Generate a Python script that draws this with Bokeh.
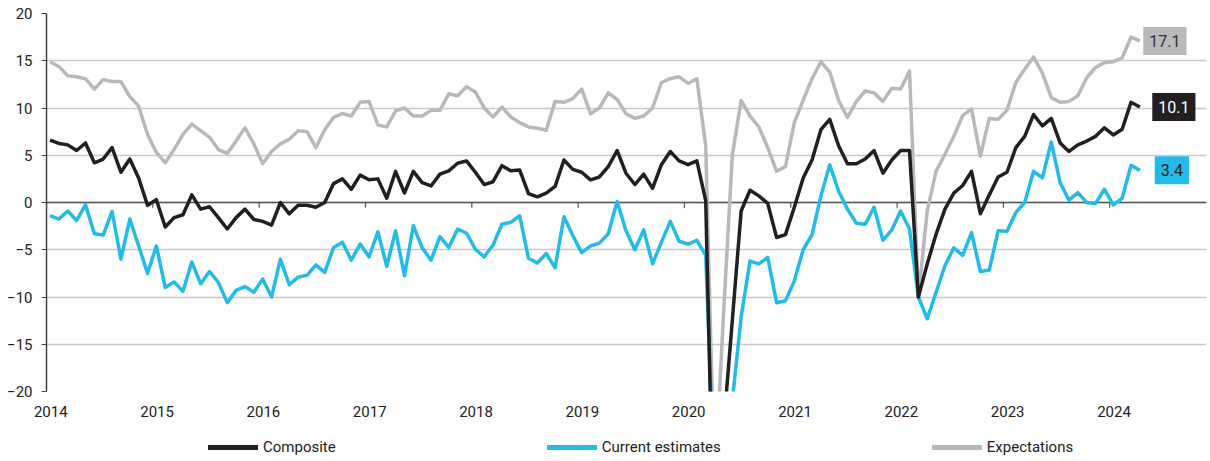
import numpy as np
from bokeh.plotting import figure
from bokeh.layouts import column
from bokeh.models import (Range1d, FixedTicker, Span, Legend, LegendItem, Label,
                          NumeralTickFormatter)
from bokeh.embed import file_html
from bokeh.resources import INLINE

start_year = 2014
years = list(range(2014, 2025))

composite = [
    6.6, 6.25, 6.1, 5.5, 6.3, 4.2, 4.6, 5.8, 3.2, 4.6, 2.6, -0.3,
    0.3, -2.6, -1.6, -1.3, 0.8, -0.7, -0.45, -1.6, -2.8, -1.6, -0.7, -1.8,
    -2.0, -2.4, 0.0, -1.2, -0.3, -0.3, -0.5, 0.0, 2.0, 2.5, 1.4, 2.9,
    2.4, 2.5, 0.45, 3.3, 1.0, 3.3, 2.1, 1.75, 3.0, 3.35, 4.15, 4.4,
    3.2, 1.9, 2.2, 3.9, 3.35, 3.45, 0.95, 0.6, 1.0, 1.7, 4.5, 3.5,
    3.2, 2.4, 2.7, 3.8, 5.5, 3.1, 1.9, 3.0, 1.5, 4.0, 5.4, 4.4,
    4.0, 4.4, 0.2, -40.0, -24.0, -12.5, -0.9, 1.3, 0.7, -0.1, -3.7, -3.4,
    -0.5, 2.6, 4.5, 7.7, 8.8, 6.0, 4.1, 4.1, 4.6, 5.5, 3.1, 4.5,
    5.5, 5.5, -10.0, -6.5, -3.35, -0.7, 1.0, 1.8, 3.3, -1.2, 0.8, 2.7,
    3.2, 5.8, 7.0, 9.3, 8.1, 8.9, 6.3, 5.4, 6.1, 6.5, 7.0, 7.9,
    7.15, 7.75, 10.6, 10.1,
]

current = [
    -1.4, -1.75, -0.9, -1.9, -0.25, -3.3, -3.45, -0.95, -6.0, -1.75, -4.6, -7.5,
    -4.6, -9.0, -8.4, -9.4, -6.3, -8.6, -7.3, -8.45, -10.6, -9.3, -8.9, -9.5,
    -8.1, -10.0, -6.0, -8.7, -7.9, -7.7, -6.6, -7.4, -4.75, -4.2, -6.1, -4.4,
    -5.75, -3.1, -6.75, -3.0, -7.75, -2.45, -4.8, -6.1, -3.6, -4.75, -2.8, -3.25,
    -4.95, -5.75, -4.5, -2.3, -2.1, -1.4, -5.9, -6.4, -5.4, -6.9, -1.5, -3.5,
    -5.3, -4.6, -4.3, -3.3, 0.1, -3.0, -5.0, -2.9, -6.5, -4.2, -2.0, -4.1,
    -4.4, -4.0, -5.6, -30.0, -40.0, -21.0, -12.1, -6.2, -6.5, -5.8, -10.6, -10.4,
    -8.3, -5.0, -3.4, 0.7, 4.0, 1.2, -0.7, -2.2, -2.3, -0.5, -4.0, -2.9,
    -0.9, -2.8, -10.0, -12.3, -9.5, -6.7, -4.8, -5.6, -3.2, -7.3, -7.15, -3.0,
    -3.05, -1.05, 0.0, 3.3, 2.6, 6.4, 2.1, 0.25, 1.05, 0.0, -0.1, 1.4,
    -0.25, 0.45, 3.95, 3.4,
]

expectations = [
    14.9, 14.4, 13.4, 13.3, 13.1, 12.0, 13.0, 12.8, 12.8, 11.2, 10.2, 7.2,
    5.3, 4.2, 5.6, 7.2, 8.3, 7.6, 6.9, 5.6, 5.2, 6.5, 7.9, 6.2,
    4.1, 5.4, 6.2, 6.7, 7.6, 7.5, 5.8, 7.7, 9.0, 9.4, 9.15, 10.6,
    10.7, 8.2, 8.0, 9.7, 10.0, 9.15, 9.15, 9.75, 9.75, 11.5, 11.3, 12.25,
    11.7, 10.0, 9.05, 10.1, 9.05, 8.45, 8.0, 7.85, 7.65, 10.7, 10.6, 11.0,
    12.0, 9.4, 10.0, 11.6, 10.9, 9.4, 8.9, 9.15, 10.0, 12.7, 13.1, 13.3,
    12.6, 13.1, 6.0, -30.0, -12.0, 5.0, 10.8, 9.15, 8.0, 5.8, 3.3, 3.8,
    8.45, 10.8, 13.1, 14.9, 13.8, 10.8, 9.0, 10.7, 11.8, 11.6, 10.7, 12.1,
    12.0, 13.9, -10.0, -0.9, 3.3, 5.1, 7.0, 9.2, 9.9, 4.9, 8.9, 8.8,
    9.75, 12.7, 14.1, 15.4, 13.7, 11.1, 10.6, 10.7, 11.3, 13.2, 14.3, 14.8,
    14.9, 15.3, 17.5, 17.1,
]

series_names = ["Composite", "Current estimates", "Expectations"]
colors = ["#231f20", "#22bbea", "#b9b9b9"]
label_text_colors = ["#ffffff", "#222222", "#333333"]

n = len(composite)
x = [start_year + (i + 0.4) / 12 for i in range(n)]

FONT = "Roboto"

p = figure(width=1208, height=432, output_backend="svg", toolbar_location=None,
           x_range=Range1d(2014, 2024.91), y_range=Range1d(-20, 20),
           min_border_left=46, min_border_right=2, min_border_top=13,
           min_border_bottom=41)
p.outline_line_color = None
p.background_fill_color = "white"
p.border_fill_color = "white"

# grid
p.xgrid.grid_line_color = None
p.ygrid.grid_line_color = "#c9c9c9"
p.ygrid.grid_line_width = 1.6
p.ygrid.ticker = FixedTicker(ticks=list(range(-20, 21, 5)))

# y axis
p.yaxis.ticker = FixedTicker(ticks=list(range(-20, 21, 5)))
p.yaxis.axis_line_color = "#444444"
p.yaxis.axis_line_width = 1.5
p.yaxis.major_tick_line_color = "#444444"
p.yaxis.major_tick_line_width = 1.2
p.yaxis.major_tick_out = 5
p.yaxis.major_tick_in = 0
p.yaxis.minor_tick_line_color = None
p.yaxis.major_label_standoff = 9
p.yaxis.major_label_text_font = FONT
p.yaxis.major_label_text_font_size = "15px"
p.yaxis.major_label_text_color = "#222222"

# x axis: year labels only (set slightly right of the year tick, as in the original)
p.xaxis.ticker = FixedTicker(ticks=[y + 0.04 for y in years])
p.xaxis.formatter = NumeralTickFormatter(format="0")
p.xaxis.axis_line_color = None
p.xaxis.major_tick_line_color = None
p.xaxis.minor_tick_line_color = None
p.xaxis.major_label_standoff = 8
p.xaxis.major_label_text_font = FONT
p.xaxis.major_label_text_font_size = "15px"
p.xaxis.major_label_text_color = "#222222"

# zero line with year ticks
zero = Span(location=0, dimension="width", line_color="#555555", line_width=1.6, level="underlay")
p.add_layout(zero)
p.segment(x0=years, y0=[0] * len(years), x1=years, y1=[-0.55] * len(years),
          line_color="#555555", line_width=1.2)

# series (draw gray first, then blue, then black)
order = [2, 1, 0]
data = [composite, current, expectations]
for k in order:
    p.line(x, data[k], line_color=colors[k], line_width=3.5, line_join="round")

# end-value boxes
x_off = [34, 32, 25]
for k in range(3):
    last = data[k][-1]
    kw = dict(x=x[-1], y=last, x_offset=x_off[k], text=f"{last:.1f}",
              text_align="center", text_baseline="middle",
              text_font=FONT, text_font_size="16px",
              text_color=label_text_colors[k],
              background_fill_color=colors[k])
    try:
        lab = Label(padding=dict(left=6, right=6, top=8, bottom=8), **kw)
    except Exception:
        lab = Label(padding=7, **kw)
    p.add_layout(lab)

# legend strip below the chart (proxy renderers hold one undrawn point each)
p2 = figure(width=1208, height=28, output_backend="svg", toolbar_location=None,
            x_range=Range1d(0, 1), y_range=Range1d(0, 1),
            x_axis_type=None, y_axis_type=None, min_border=0)
p2.outline_line_color = None
p2.grid.grid_line_color = None
items = []
for k in range(3):
    r = p2.line(x=[0.0], y=[float("nan")], line_color=colors[k], line_width=5,
                line_cap="round")
    items.append(LegendItem(label=series_names[k], renderers=[r]))
legend = Legend(items=items, orientation="horizontal", location=(162, 4),
                spacing=211, glyph_width=50, glyph_height=18, label_standoff=5,
                padding=0, margin=0, border_line_color=None,
                background_fill_alpha=0, label_text_font=FONT,
                label_text_font_size="15px", label_text_color="#222222",
                label_height=18)
p2.add_layout(legend, "center")

layout = column(p, p2, spacing=0)
open("out.html", "w").write(file_html(layout, INLINE))
